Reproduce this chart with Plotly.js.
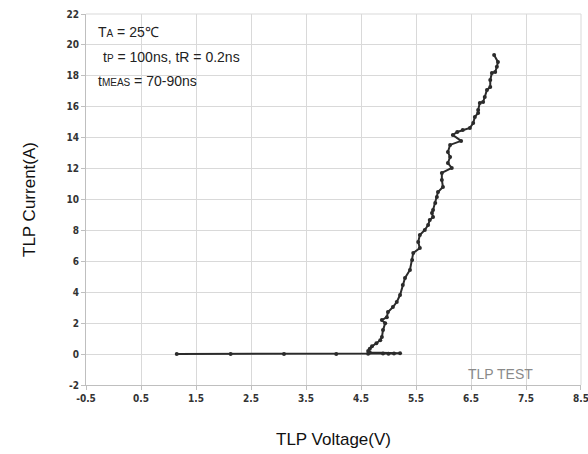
<!DOCTYPE html>
<html>
<head>
<meta charset="utf-8">
<script src="https://cdn.plot.ly/plotly-3.0.1.min.js"></script>
<style>html,body{margin:0;padding:0;background:#fff;}#chart{width:588px;height:454px;}</style>
</head>
<body>
<div id="chart"></div>
<script>
const voltage = [1.15, 2.13, 3.1, 4.05, 4.63, 4.9, 5.0, 5.1, 5.21, 4.66, 4.63, 4.66, 4.7, 4.78, 4.85, 4.88, 4.9, 4.94, 4.88, 4.97, 4.99, 5.08, 5.15, 5.21, 5.26, 5.3, 5.39, 5.43, 5.45, 5.57, 5.54, 5.57, 5.66, 5.72, 5.75, 5.81, 5.79, 5.81, 5.85, 5.88, 5.9, 5.99, 5.97, 5.97, 6.15, 6.08, 6.12, 6.08, 6.12, 6.32, 6.17, 6.25, 6.35, 6.48, 6.54, 6.57, 6.63, 6.63, 6.66, 6.72, 6.75, 6.79, 6.85, 6.85, 6.88, 6.94, 6.97, 6.99, 6.92];
const current = [0, 0, 0, 0, 0.02, 0.03, 0.02, 0.04, 0.05, 0.1, 0.2, 0.35, 0.5, 0.7, 0.9, 1.1, 1.55, 2.0, 2.2, 2.39, 2.72, 3.04, 3.37, 3.82, 4.47, 4.92, 5.44, 6.08, 6.54, 6.86, 7.25, 7.7, 8.03, 8.35, 8.67, 8.87, 9.13, 9.32, 9.77, 10.16, 10.49, 10.81, 11.26, 11.72, 12.04, 12.36, 12.75, 13.07, 13.53, 13.79, 14.17, 14.37, 14.5, 14.63, 14.95, 15.34, 15.6, 15.79, 16.25, 16.31, 16.63, 17.09, 17.28, 17.73, 18.19, 18.25, 18.58, 18.9, 19.35];
const xTicks = [-0.5, 0.5, 1.5, 2.5, 3.5, 4.5, 5.5, 6.5, 7.5, 8.5];
const yTicks = [-2, 0, 2, 4, 6, 8, 10, 12, 14, 16, 18, 20, 22];

const tickFont = {family: 'Liberation Sans Narrow, DejaVu Sans Condensed, Arial Narrow, sans-serif', size: 10, color: '#333', weight: 'bold'};
const noteFont = {family: 'Liberation Sans, Arial, sans-serif', size: 14, color: '#222'};

const trace = {
  x: voltage, y: current, type: 'scatter', mode: 'lines+markers',
  line: {color: '#2b2b2b', width: 2},
  marker: {color: '#2b2b2b', size: 4},
  hoverinfo: 'skip'
};

const layout = {
  width: 588, height: 454,
  margin: {l: 86, r: 7, t: 14, b: 69},
  paper_bgcolor: '#fff', plot_bgcolor: '#fff',
  showlegend: false,
  xaxis: {
    range: [-0.5, 8.5001], tickvals: xTicks, ticktext: xTicks.map(String),
    ticklabeloverflow: 'allow',
    showgrid: true, gridcolor: '#d9d9d9', gridwidth: 1,
    zeroline: false, showline: true, linecolor: '#bfbfbf', linewidth: 1, mirror: false,
    ticks: 'outside', ticklen: 4, tickcolor: '#bfbfbf',
    tickfont: tickFont,
    title: {text: 'TLP Voltage(V)', font: {family: 'Liberation Sans, Arial, sans-serif', size: 17, color: '#111'}, standoff: 30}
  },
  yaxis: {
    range: [-2, 22], tickvals: yTicks, ticktext: yTicks.map(String),
    showgrid: true, gridcolor: '#d9d9d9', gridwidth: 1,
    zeroline: false, showline: true, linecolor: '#bfbfbf', linewidth: 1,
    ticks: 'outside', ticklen: 4, tickcolor: '#bfbfbf',
    tickfont: tickFont,
    title: {text: 'TLP Current(A)', font: {family: 'Liberation Sans, Arial, sans-serif', size: 17, color: '#111'}, standoff: 26}
  },
  shapes: [
    {type: 'line', xref: 'paper', yref: 'paper', x0: 1, x1: 1, y0: 0, y1: 1, line: {color: '#d9d9d9', width: 1}},
    {type: 'line', xref: 'paper', yref: 'paper', x0: 0, x1: 1, y0: 1, y1: 1, line: {color: '#d9d9d9', width: 1}}
  ],
  annotations: [
    {xref: 'paper', yref: 'paper', x: 0.02, y: 0.951, xanchor: 'left', yanchor: 'middle', showarrow: false,
     text: 'T<span style="font-size:10px">A</span> = 25\u2103', font: noteFont},
    {xref: 'paper', yref: 'paper', x: 0.03, y: 0.884, xanchor: 'left', yanchor: 'middle', showarrow: false,
     text: 't<span style="font-size:10px">P</span> = 100ns, tR = 0.2ns', font: noteFont},
    {xref: 'paper', yref: 'paper', x: 0.02, y: 0.819, xanchor: 'left', yanchor: 'middle', showarrow: false,
     text: 't<span style="font-size:10px">MEAS</span> = 70-90ns', font: noteFont},
    {xref: 'paper', yref: 'paper', x: 0.837, y: 0.03, xanchor: 'center', yanchor: 'middle', showarrow: false,
     text: 'TLP TEST', font: {family: 'Liberation Sans, Arial, sans-serif', size: 14, color: '#8a8a8a'}}
  ]
};

Plotly.newPlot('chart', [trace], layout, {staticPlot: true, displayModeBar: false});
</script>
</body>
</html>
